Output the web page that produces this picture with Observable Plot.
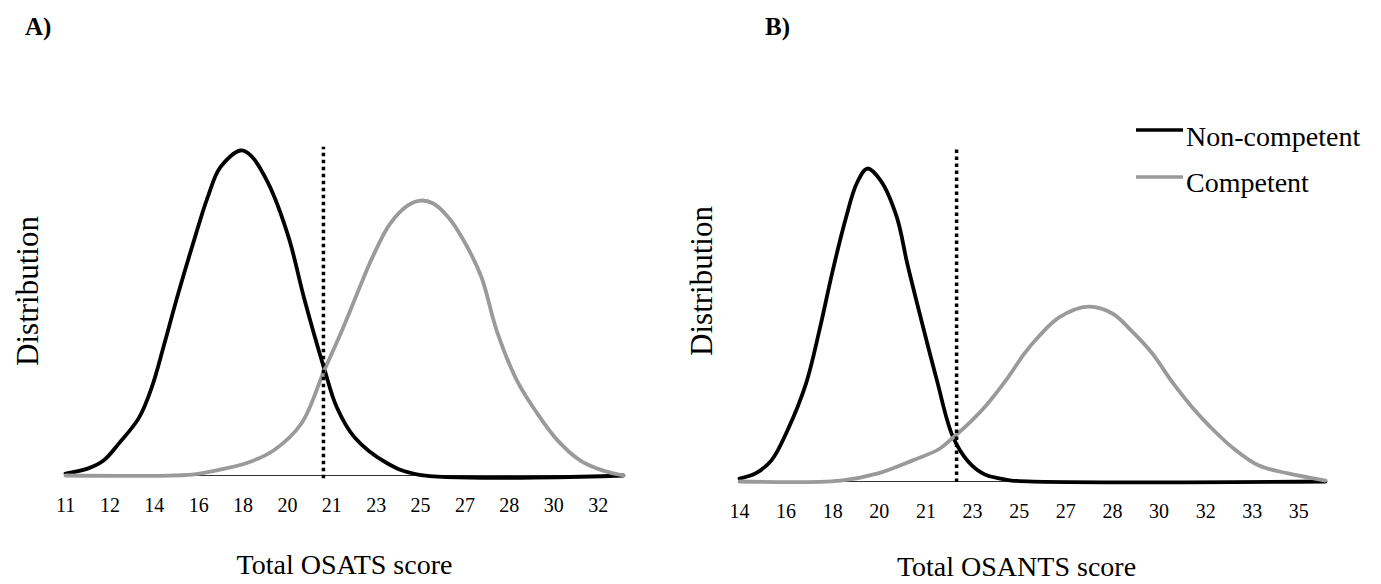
<!DOCTYPE html>
<html>
<head>
<meta charset="utf-8">
<script src="https://cdn.jsdelivr.net/npm/d3@7"></script>
<script src="https://cdn.jsdelivr.net/npm/@observablehq/plot@0.6"></script>
<style>
  html, body { margin: 0; padding: 0; background: #fff; }
  #wrap { position: relative; width: 1381px; height: 584px; background: #fff; font-family: 'Liberation Serif', 'Times New Roman', serif; }
  #pa { position: absolute; left: 0; top: 0; }
  #pb { position: absolute; left: 690px; top: 0; }
  #ann { position: absolute; left: 0; top: 0; pointer-events: none; }
</style>
</head>
<body>
<div id="wrap">
  <div id="pa"></div>
  <div id="pb"></div>
  <svg id="ann" width="1381" height="584"></svg>
</div>
<script>
// ---------- data ----------
const panelLabels = ["A)", "B)"];
const seriesNames = ["Non-competent", "Competent"];
const seriesColors = ["#000000", "#9a9a9a"];

const tickLabelsA = ["11","12","14","16","18","20","21","23","25","27","28","30","32"];
const tickLabelsB = ["14","16","18","20","21","23","25","27","28","30","32","33","35"];
const tickStartA = 11, tickStartB = 14, tickStep = 1.75;

const xTitleA = "Total OSATS score";
const xTitleB = "Total OSANTS score";
const yTitle = "Distribution";

const cutA = [21.17];
const cutB = [22.15];

// Panel A – Non-competent
const nonA_x = [11.0, 11.9, 12.5, 13.1, 13.9, 14.4, 14.9, 15.4, 16.1, 16.6, 17.1, 17.9, 18.3, 19.0, 19.8, 20.4, 21.2, 21.7, 22.4, 23.7, 24.9, 33.0];
const nonA_y = [0.6, 2.2, 4.6, 9.8, 17.8, 27.1, 40.6, 54.8, 73.2, 85.5, 94.8, 100, 98.5, 89.8, 73.2, 54.8, 32.9, 20.9, 11.7, 3.7, 0.3, 0];
// Panel A – Competent
const comA_x = [11.0, 16.0, 16.9, 18.2, 19.2, 20.3, 21.2, 21.9, 22.5, 23.1, 23.8, 24.5, 25.0, 25.5, 26.1, 26.7, 27.4, 28.0, 28.8, 29.6, 30.4, 31.3, 32.2, 33.0];
const comA_y = [0, 0.3, 1.5, 4.0, 7.7, 16, 32.3, 44.6, 56, 67.1, 77.5, 83.1, 84.6, 83.7, 79.4, 72.3, 61, 44.6, 29.2, 19.1, 10.8, 4.6, 1.5, 0];
// Panel B – Non-competent
const nonB_x = [14.0, 14.6, 15.2, 15.8, 16.5, 17.0, 17.5, 18.0, 18.4, 18.8, 19.3, 19.9, 20.3, 20.8, 21.4, 22.0, 22.6, 23.2, 23.8, 24.2, 36.0];
const nonB_y = [0.9, 2.5, 6.5, 15.7, 30.2, 46.5, 64.9, 81.2, 91.7, 96.3, 92.6, 81.5, 67, 50.5, 31.5, 14.0, 6.0, 2.2, 0.9, 0.3, 0];
// Panel B – Competent
const comB_x = [14.0, 17.8, 19.2, 20.5, 21.5, 22.0, 22.7, 23.3, 24.0, 24.7, 25.2, 26.0, 27.1, 28.0, 28.7, 29.5, 30.2, 31.0, 31.7, 32.5, 33.5, 34.6, 36.0];
const comB_y = [0, 0.3, 2.5, 6.5, 10.0, 13.4, 18.6, 23.8, 31.1, 39.4, 44.3, 50.5, 53.8, 51.7, 46.5, 39.4, 31.1, 22.8, 16.6, 10.5, 4.9, 2.5, 0.3];

// ---------- build ----------
const toRows = (xs, ys) => xs.map((x, i) => ({x, y: ys[i]}));
const FONT = "'Liberation Serif', 'Times New Roman', serif";

function panel({width, mL, mR, mT, mB, domain, tickStart, tickLabels, non, com, cut, xTitle, titleDx, titleDy, yDy, cutTop, cutBottom}) {
  const ticks = tickLabels.map((_, i) => tickStart + tickStep * i);
  const fmt = new Map(ticks.map((t, i) => [t, tickLabels[i]]));
  return Plot.plot({
    width, height: 584,
    marginLeft: mL, marginRight: mR, marginTop: mT, marginBottom: mB,
    x: {domain, axis: null},
    y: {domain: [0, 100], axis: null},
    style: {fontFamily: FONT, background: "transparent", color: "#000", overflow: "visible"},
    marks: [
      Plot.ruleY([0], {stroke: "#333", strokeWidth: 1.2}),
      Plot.line(non, {x: "x", y: "y", stroke: seriesColors[0], strokeWidth: 3.8, curve: "catmull-rom"}),
      Plot.line(com, {x: "x", y: "y", stroke: seriesColors[1], strokeWidth: 3.8, curve: "catmull-rom"}),
      Plot.ruleX(cut, {y1: cutBottom, y2: cutTop, stroke: "#000", strokeWidth: 3.5, strokeDasharray: "3.5,3.5"}),
      Plot.axisX({ticks, tickFormat: d => fmt.get(d), tickSize: 0, tickPadding: 22, fontSize: 20, fontFamily: FONT, label: null}),
      Plot.text([xTitle], {frameAnchor: "bottom", lineAnchor: "middle", textAnchor: "middle", dy: titleDy, dx: titleDx, fontSize: 28, fontFamily: FONT}),
      Plot.text([yTitle], {frameAnchor: "left", textAnchor: "middle", lineAnchor: "middle", rotate: -90, dx: -37, dy: yDy, fontSize: 31, fontFamily: FONT})
    ]
  });
}

document.getElementById("pa").append(panel({
  width: 690, mL: 65, mR: 67, mT: 150, mB: 109, domain: [11, 33],
  tickStart: tickStartA, tickLabels: tickLabelsA,
  non: toRows(nonA_x, nonA_y), com: toRows(comA_x, comA_y),
  cut: cutA, xTitle: xTitleA, titleDx: 0, titleDy: 90, yDy: -22, cutTop: 101, cutBottom: -1
}));

document.getElementById("pb").append(panel({
  width: 691, mL: 49, mR: 56, mT: 156, mB: 103, domain: [14, 36],
  tickStart: tickStartB, tickLabels: tickLabelsB,
  non: toRows(nonB_x, nonB_y), com: toRows(comB_x, comB_y),
  cut: cutB, xTitle: xTitleB, titleDx: -16, titleDy: 86, yDy: -38, cutTop: 103, cutBottom: -0.3
}));

// ---------- annotations: panel letters + legend ----------
const ann = d3.select("#ann");
ann.append("text").attr("x", 25).attr("y", 35).attr("font-family", FONT).attr("font-size", 25).attr("font-weight", "bold").text(panelLabels[0]);
ann.append("text").attr("x", 765).attr("y", 35).attr("font-family", FONT).attr("font-size", 25).attr("font-weight", "bold").text(panelLabels[1]);

const legendRows = [{y: 130, ty: 146}, {y: 177, ty: 192}];
seriesNames.forEach((name, i) => {
  ann.append("line").attr("x1", 1136).attr("x2", 1183).attr("y1", legendRows[i].y).attr("y2", legendRows[i].y)
    .attr("stroke", seriesColors[i]).attr("stroke-width", 3.6);
  ann.append("text").attr("x", 1186).attr("y", legendRows[i].ty).attr("font-family", FONT).attr("font-size", 28).text(name);
});
</script>
</body>
</html>
